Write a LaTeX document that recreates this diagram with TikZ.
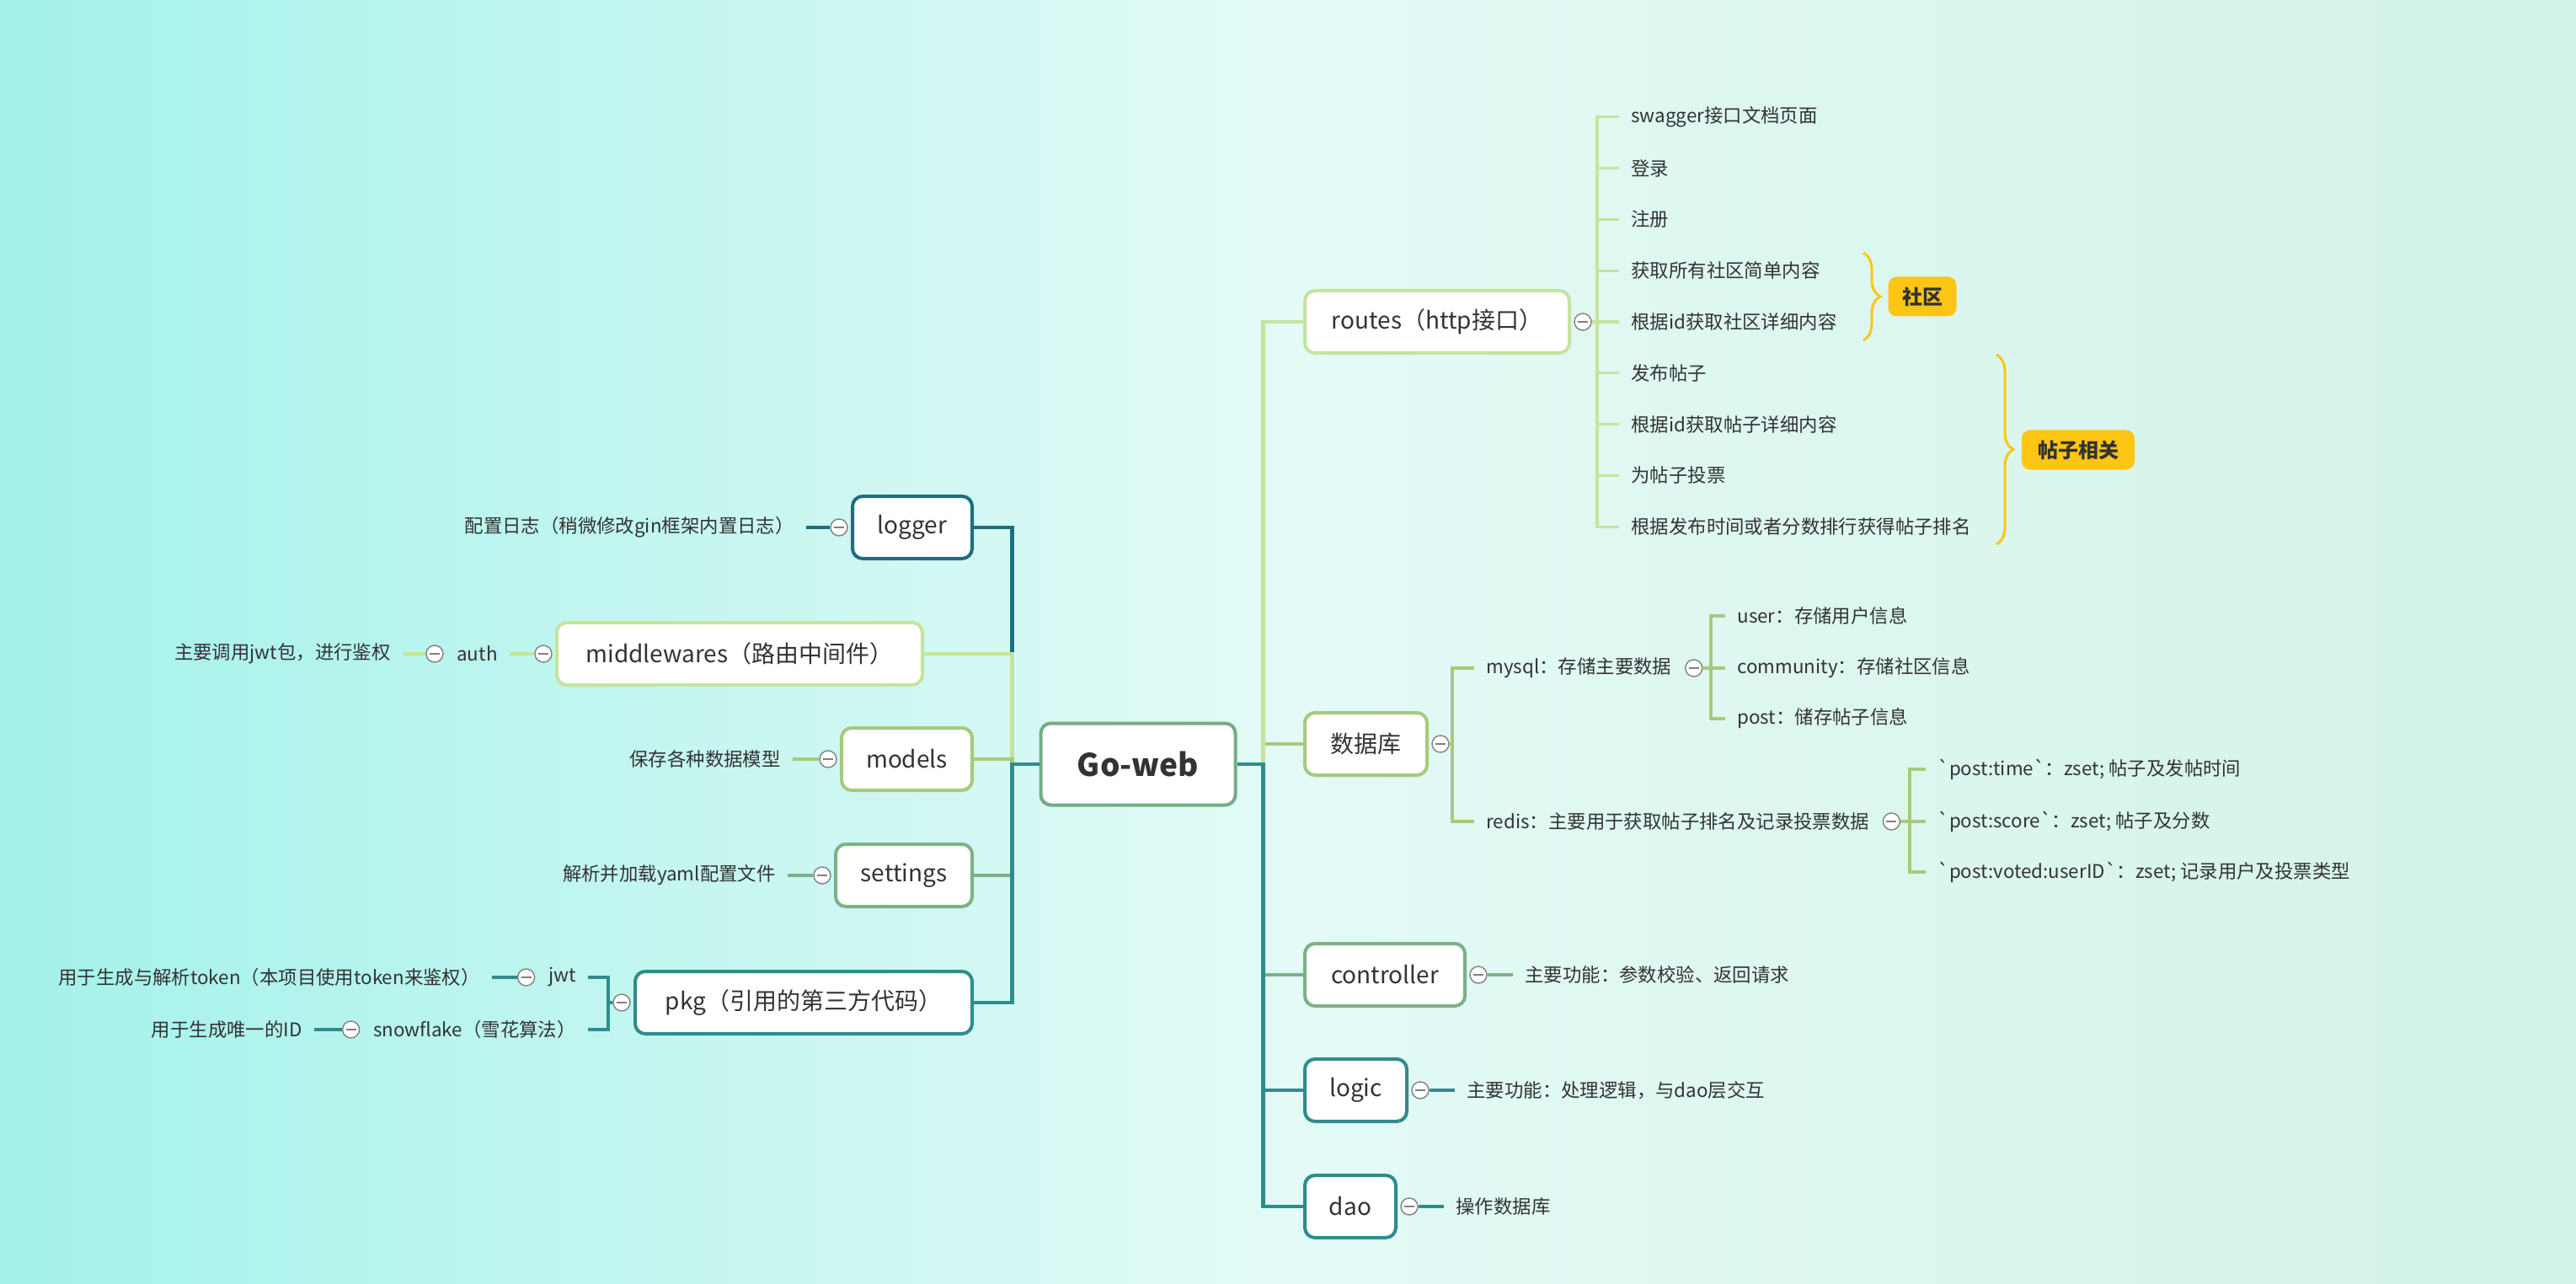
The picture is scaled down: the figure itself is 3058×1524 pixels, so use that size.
\documentclass[tikz,border=0pt]{standalone}
\usepackage{fontspec}
\setmainfont{Noto Sans CJK SC}
\newfontfamily\gravefont{Noto Sans CJK SC}[Ligatures=TeXOff]
\newcommand{\gv}{{\gravefont\symbol{96}}}
\usetikzlibrary{decorations.pathreplacing}

\definecolor{bgleft}{HTML}{A3F2EA}
\definecolor{bgmid}{HTML}{E3FAF6}
\definecolor{bgright}{HTML}{D3F3E6}
\definecolor{lgreen}{HTML}{C6E39E}
\definecolor{mgreen}{HTML}{A8C97C}
\definecolor{sgreen}{HTML}{7DB088}
\definecolor{teal1}{HTML}{2F8C8C}
\definecolor{teal2}{HTML}{1B6F80}
\definecolor{rootline}{HTML}{74AB84}
\definecolor{tagyellow}{HTML}{FDC514}
\definecolor{txt}{HTML}{333333}

\begin{document}
\begin{tikzpicture}[x=0.5pt,y=-0.5pt]


 \tikzset{
    topic/.style={
      draw, fill=white, rounded corners=6pt, line width=2pt,
      minimum height=37pt, inner sep=0pt, text=txt,
      font=\fontsize{14}{16}\selectfont
    },
    leaf/.style={inner xsep=7pt, inner ysep=2pt, text=txt,
      font=\fontsize{11.2}{13}\selectfont},
    fold/.style={circle, draw=gray, fill=white, line width=0.7pt,
      minimum size=10pt, inner sep=0pt,
      path picture={\draw[gray, line width=0.7pt]
        ([xshift=-3pt]path picture bounding box.center) --
        ([xshift=3pt]path picture bounding box.center);}},
    branch/.style={line width=2.3pt},
    sub/.style={line width=1.6pt},
    tag/.style={fill=tagyellow, rounded corners=5pt, inner sep=0pt,
      minimum height=23.5pt, text=txt,
      font=\fontsize{12}{14}\selectfont\bfseries},
    curly/.style={draw=tagyellow, line width=1.5pt, decorate,
      decoration={brace, amplitude=10pt}}
  }

% background
\shade[left color=bgleft, right color=bgright, middle color=bgmid] (0,0) rectangle (3058,1524);

\node[topic, draw=rootline, minimum width=115.5pt, minimum height=48.5pt,
  font=\fontsize{18.5}{22}\selectfont\bfseries] (goweb) at (1351,907) {Go-web};

\node[topic, draw=lgreen, anchor=west, minimum width=157pt] (routes) at (1547,382) {routes（http接口）};
\node[topic, draw=mgreen, anchor=west, minimum width=72.5pt] (db) at (1547,883) {数据库};
\node[topic, draw=sgreen, anchor=west, minimum width=95pt] (controller) at (1547,1157) {controller};
\node[topic, draw=teal1, anchor=west, minimum width=60.5pt] (logic) at (1547,1294) {logic};
\node[topic, draw=teal1, anchor=west, minimum width=54pt] (dao) at (1547,1432) {dao};

\node[topic, draw=teal2, anchor=east, minimum width=71pt] (logger) at (1156,626) {logger};
\node[topic, draw=lgreen, anchor=east, minimum width=217pt] (middlewares) at (1097,776) {middlewares（路由中间件）};
\node[topic, draw=mgreen, anchor=east, minimum width=77.5pt] (models) at (1156,901) {models};
\node[topic, draw=sgreen, anchor=east, minimum width=81pt] (settings) at (1156,1039) {settings};
\node[topic, draw=teal1, anchor=east, minimum width=200pt] (pkg) at (1156,1190) {pkg（引用的第三方代码）};

\foreach \t/\c in {db/mgreen, routes/lgreen, controller/sgreen, logic/teal1, dao/teal1}
  \draw[branch, \c] (goweb.east) -- ++(31,0) |- (\t.west);
\foreach \t/\c in {logger/teal2, middlewares/lgreen, models/mgreen, settings/sgreen, pkg/teal1}
  \draw[branch, \c] (goweb.west) -- ++(-32,0) |- (\t.east);

\foreach \t in {routes, db, controller, logic, dao}
  \node[fold] (\t-f) at ([xshift=7pt]\t.east) {};
\foreach \t in {logger, middlewares, models, settings, pkg}
  \node[fold] (\t-f) at ([xshift=-7pt]\t.west) {};

% routes
\coordinate (routes-bus) at (1896,382);
\draw[sub, lgreen] (routes-f.east) -- (routes-bus);
\foreach \i/\t in {1/{swagger接口文档页面}, 2/{登录}, 3/{注册}, 4/{获取所有社区简单内容},
    5/{根据id获取社区详细内容}, 6/{发布帖子}, 7/{根据id获取帖子详细内容}, 8/{为帖子投票},
    9/{根据发布时间或者分数排行获得帖子排名}} {
  \node[leaf, anchor=west] (route\i) at (1922,{382+60.8*(\i-5)}) {\t};
  \draw[sub, lgreen] (routes-bus) |- (route\i.west);
}

\coordinate (sq-top) at (2212,300);
\coordinate (sq-bot) at (2212,404);
\draw[curly] (sq-top) -- (sq-bot);
\node[tag, minimum width=40.5pt] (sq) at (2282,352) {社区};
\coordinate (tz-top) at (2370,421);
\coordinate (tz-bot) at (2370,646);
\draw[curly] (tz-top) -- (tz-bot);
\node[tag, minimum width=67pt] (tz) at (2467,534) {帖子相关};

% db
\coordinate (db-bus) at (1724,883);
\draw[sub, mgreen] (db-f.east) -- (db-bus);
\node[leaf, anchor=west] (mysql) at (1750,793) {mysql：存储主要数据};
\node[leaf, anchor=west] (redis) at (1750,975) {redis：主要用于获取帖子排名及记录投票数据};
\draw[sub, mgreen] (db-bus) |- (mysql.west);
\draw[sub, mgreen] (db-bus) |- (redis.west);
\node[fold] (mysql-f) at ([xshift=6pt]mysql.east) {};
\node[fold] (redis-f) at ([xshift=6pt]redis.east) {};

\coordinate (mysql-bus) at (2031,793);
\draw[sub, mgreen] (mysql-f.east) -- (mysql-bus);
\foreach \i/\y/\t in {1/731/{user：存储用户信息}, 2/793/{community：存储社区信息}, 3/853/{post：储存帖子信息}} {
  \node[leaf, anchor=west] (mysql\i) at (2048,\y) {\t};
  \draw[sub, mgreen] (mysql-bus) |- (mysql\i.west);
}
\coordinate (redis-bus) at (2267,975);
\draw[sub, mgreen] (redis-f.east) -- (redis-bus);
\foreach \i/\y/\t in {1/913/{\gv post:time\gv：zset; 帖子及发帖时间},
    2/975/{\gv post:score\gv：zset; 帖子及分数},
    3/1035/{\gv post:voted:userID\gv：zset; 记录用户及投票类型}} {
  \node[leaf, anchor=west] (redis\i) at (2286,\y) {\t};
  \draw[sub, mgreen] (redis-bus) |- (redis\i.west);
}

% controller, logic, dao
\node[leaf, anchor=west] (controller-note) at (1796,1157) {主要功能：参数校验、返回请求};
\draw[sub, sgreen] (controller-f.east) -- (controller-note.west);
\node[leaf, anchor=west] (logic-note) at (1727,1294) {主要功能：处理逻辑，与dao层交互};
\draw[sub, teal1] (logic-f.east) -- (logic-note.west);
\node[leaf, anchor=west] (dao-note) at (1714,1432) {操作数据库};
\draw[sub, teal1] (dao-f.east) -- (dao-note.west);

% left side
\node[leaf, anchor=east] (logger-note) at (957,626) {配置日志（稍微修改gin框架内置日志）};
\draw[sub, teal2] (logger-f.west) -- (logger-note.east);

\node[leaf, anchor=east] (auth) at (605,776) {auth};
\draw[sub, lgreen] (middlewares-f.west) -- (auth.east);
\node[fold] (auth-f) at ([xshift=-6pt]auth.west) {};
\node[leaf, anchor=east] (auth-note) at (478,776) {主要调用jwt包，进行鉴权};
\draw[sub, lgreen] (auth-f.west) -- (auth-note.east);

\node[leaf, anchor=east] (models-note) at (941,901) {保存各种数据模型};
\draw[sub, mgreen] (models-f.west) -- (models-note.east);
\node[leaf, anchor=east] (settings-note) at (935,1039) {解析并加载yaml配置文件};
\draw[sub, sgreen] (settings-f.west) -- (settings-note.east);

\coordinate (pkg-bus) at (722,1190);
\draw[sub, teal1] (pkg-f.west) -- (pkg-bus);
\node[leaf, anchor=east] (jwt) at (698,1160) {jwt};
\node[leaf, anchor=east] (snowflake) at (698,1222) {snowflake（雪花算法）};
\draw[sub, teal1] (pkg-bus) |- (jwt.east);
\draw[sub, teal1] (pkg-bus) |- (snowflake.east);
\node[fold] (jwt-f) at ([xshift=-6pt]jwt.west) {};
\node[fold] (snowflake-f) at ([xshift=-6pt]snowflake.west) {};
\node[leaf, anchor=east] (jwt-note) at (584,1160) {用于生成与解析token（本项目使用token来鉴权）};
\draw[sub, teal1] (jwt-f.west) -- (jwt-note.east);
\node[leaf, anchor=east] (snowflake-note) at (373,1222) {用于生成唯一的ID};
\draw[sub, teal1] (snowflake-f.west) -- (snowflake-note.east);
\end{tikzpicture}
\end{document}
